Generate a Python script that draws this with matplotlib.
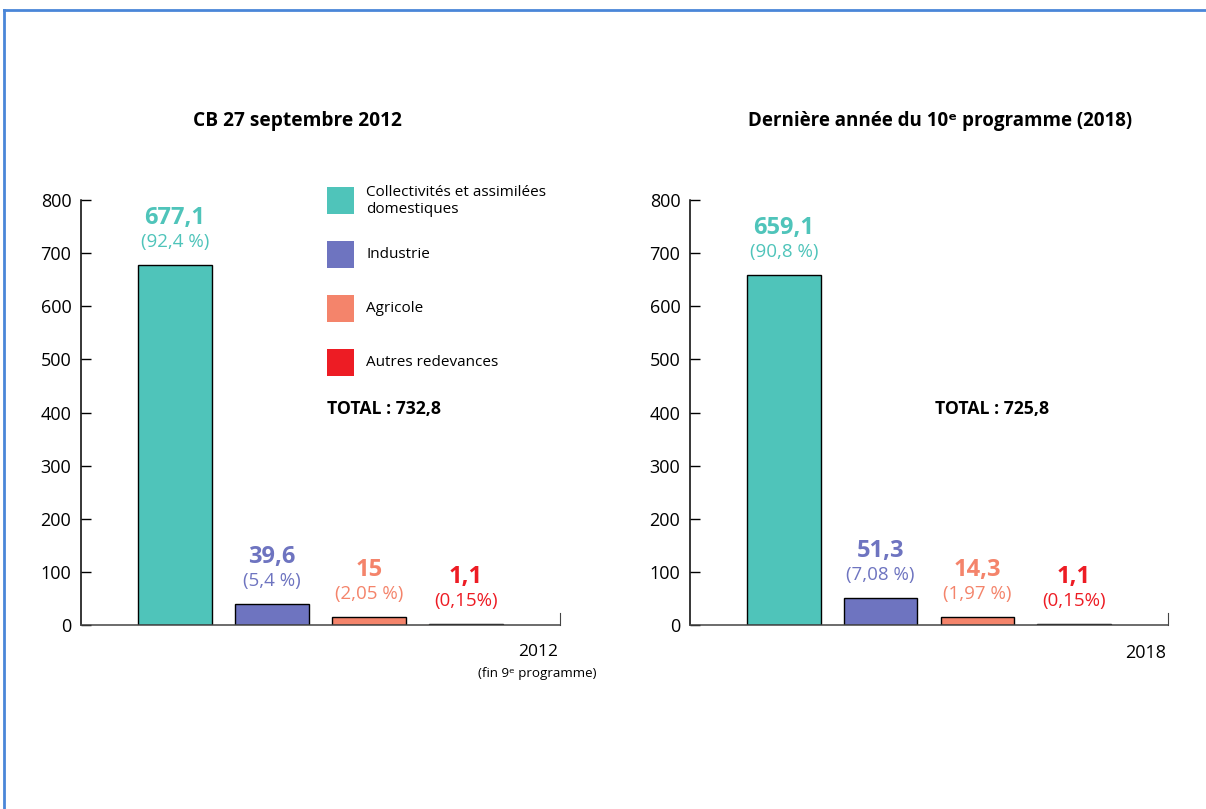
import matplotlib.pyplot as plt
from matplotlib.patches import Rectangle
from matplotlib.lines import Line2D

plt.rcParams['font.family'] = ['Open Sans', 'DejaVu Sans']

# data
categories = ["Collectivités et assimilées\ndomestiques", "Industrie", "Agricole", "Autres redevances"]
colors = ["#4FC4BA", "#6E74C0", "#F4846B", "#ED1C24"]
values_2012 = [677.1, 39.6, 15, 1.1]
pct_2012 = ["(92,4 %)", "(5,4 %)", "(2,05 %)", "(0,15%)"]
values_2018 = [659.1, 51.3, 14.3, 1.1]
pct_2018 = ["(90,8 %)", "(7,08 %)", "(1,97 %)", "(0,15%)"]
titles = ["CB 27 septembre 2012", "Dernière année du 10ᵉ programme (2018)"]
totals = ["TOTAL : 732,8", "TOTAL : 725,8"]
yticks = [0, 100, 200, 300, 400, 500, 600, 700, 800]

W, H = 1206, 809
fig = plt.figure(figsize=(W / 100, H / 100), dpi=100)

def fx(x):
    return x / W

def fy(y):
    return 1 - y / H

def fmt(v):
    s = ("%.1f" % v).replace(".", ",")
    return s[:-2] if s.endswith(",0") else s

def panel(left, right, values, pcts):
    ax = fig.add_axes([fx(left), fy(625), fx(right - left), fy(200) - fy(625)])
    x = range(len(values))
    ax.bar(x, values, width=0.76, color=colors, edgecolor="black", linewidth=1)
    for xi, v, p, c in zip(x, values, pcts, colors):
        ax.annotate(fmt(v), (xi, v), xytext=(0, 47), textcoords="offset pixels",
                    ha="center", va="center", fontsize=17, fontweight="bold", color=c)
        ax.annotate(p, (xi, v), xytext=(0, 23), textcoords="offset pixels",
                    ha="center", va="center", fontsize=13.5, color=c)
    ax.set_xlim(-0.97, 3.97)
    ax.set_ylim(0, 800)
    ax.set_yticks(yticks)
    ax.set_xticks([])
    ax.tick_params(axis="y", direction="in", length=7, width=1, labelsize=13, pad=7)
    ax.spines["top"].set_visible(False)
    ax.spines["left"].set_linewidth(1.1)
    ax.spines["bottom"].set_color("#444444")
    ax.spines["bottom"].set_linewidth(1.1)
    ax.spines["right"].set_bounds(0, 22)
    ax.spines["right"].set_color("#444444")
    ax.patch.set_visible(False)
    return ax

ax1 = panel(81, 560, values_2012, pct_2012)
ax2 = panel(690, 1168, values_2018, pct_2018)

fig.text(fx(297), fy(121), titles[0], ha="center", va="center", fontsize=13.8, fontweight="bold")
fig.text(fx(940), fy(121), titles[1], ha="center", va="center", fontsize=13.5, fontweight="bold")

fig.text(fx(558), fy(652), "2012", ha="right", va="center", fontsize=12.5)
fig.text(fx(597), fy(673), "(fin 9ᵉ programme)", ha="right", va="center", fontsize=9.6)
fig.text(fx(1166), fy(653), "2018", ha="right", va="center", fontsize=13)

# legend
tops = [187, 241, 295, 349]
for top, c, lab in zip(tops, colors, categories):
    fig.add_artist(Rectangle((fx(327), fy(top + 27)), fx(27), fy(top) - fy(top + 27),
                             transform=fig.transFigure, facecolor=c, edgecolor="none"))
    fig.text(fx(366), fy(top + 14), lab, ha="left", va="center", fontsize=11, linespacing=1.15)

fig.text(fx(327), fy(409), totals[0], ha="left", va="center", fontsize=12.7, fontweight="bold")
fig.text(fx(935), fy(409), totals[1], ha="left", va="center", fontsize=12.7, fontweight="bold")

# blue frame
fig.add_artist(Line2D([fx(4), 1], [fy(10), fy(10)], color="#4A86D8", linewidth=2, transform=fig.transFigure))
fig.add_artist(Line2D([fx(4), fx(4)], [fy(10), 0], color="#4A86D8", linewidth=2, transform=fig.transFigure))

fig.savefig("out.png", dpi=100)
